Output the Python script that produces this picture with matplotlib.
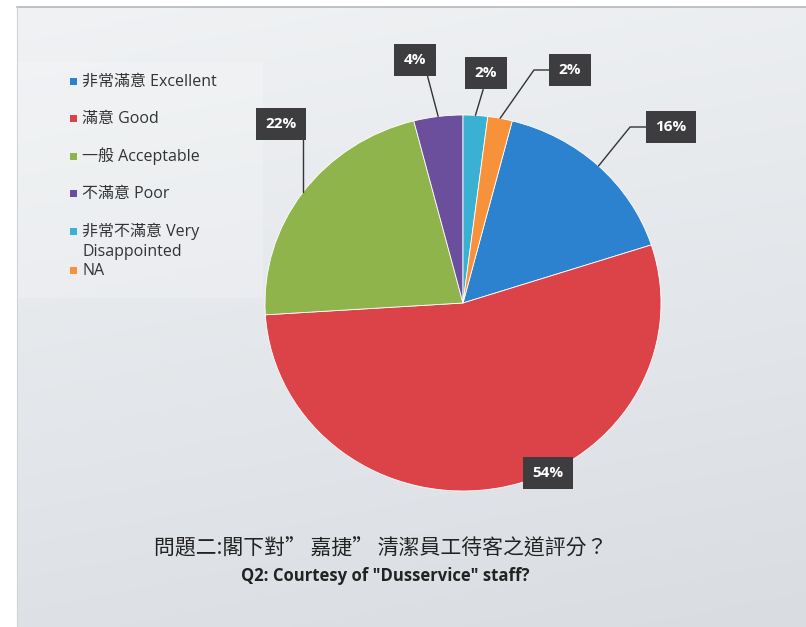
import numpy as np
import matplotlib
matplotlib.use("Agg")
import matplotlib.pyplot as plt
from matplotlib.patches import Rectangle

# Q2 survey results (percent)
labels = ["非常滿意 Excellent", "滿意 Good", "一般 Acceptable", "不滿意 Poor",
          "非常不滿意 Very\nDisappointed", "NA"]
values = [16, 54, 22, 4, 2, 2]
colors = ["#2c82cf", "#dc4349", "#8fb44b", "#6b4f9d", "#3ab0d2", "#f7923b"]

title_zh = "問題二:閣下對” 嘉捷” 清潔員工待客之道評分？"
title_en = 'Q2: Courtesy of "Dusservice" staff?'

# label box centres (pixels from top-left) and leader styles
label_pos = [(671, 127), (548, 473), (281, 124), (415, 60), (486, 73), (570, 70)]
label_conn = ["angle,angleA=0,angleB=51,rad=0", None, "angle,angleA=0,angleB=90,rad=0",
              "arc3", "arc3", "angle,angleA=0,angleB=55,rad=0"]
label_relpos = [(0, 0.5), (0.5, 0.5), (0.5, 0.5), (0.95, 0), (0.5, 0), (0, 0.5)]

# legend rows (pixels from top) and line step for wrapped labels
legend_rows = [81, 118, 156, 193, 231, 270]
legend_line = 20

W, H = 806, 627
fig = plt.figure(figsize=(W / 100, H / 100), dpi=100)
fig.patch.set_facecolor("white")

# background panel with soft gradient
bg = fig.add_axes([0, 0, 1, 1])
bg.set_xlim(0, W)
bg.set_ylim(H, 0)
bg.axis("off")
yy, xx = np.mgrid[0:1:200j, 0:1:200j]
top = np.array([240, 242, 244]) / 255
bot = np.array([217, 221, 226]) / 255
t = 0.8 * yy + 0.2 * xx
grad = top[None, None, :] * (1 - t[..., None]) + bot[None, None, :] * t[..., None]
bg.imshow(grad, extent=(17, W, H, 7), aspect="auto", zorder=0)
bg.plot([17, W], [7, 7], color="#b4b6b8", lw=1.2, zorder=1)
bg.plot([17, 17], [7, H], color="#d0d2d4", lw=0.8, zorder=1)
bg.add_patch(Rectangle((18, 62), 245, 236, fc="white", ec="none", alpha=0.18, zorder=1))

# legend, Excel style (wrapped label lines drawn one by one)
for lab, col, y in zip(labels, colors, legend_rows):
    bg.add_patch(Rectangle((70, y - 3.5), 7, 7, fc=col, ec="none", zorder=2))
    for i, line in enumerate(lab.split("\n")):
        bg.text(82, y + 5 + i * legend_line, line, ha="left", va="baseline",
                fontsize=11.5, color="#333333",
                family=["Open Sans", "Noto Sans CJK TC"], zorder=2)

# pie (slightly elliptical like the scanned original)
ax = fig.add_axes([265 / W, (H - 491) / H, 396 / W, 376 / H])
start = 90 - 360 * (values[4] + values[5]) / sum(values)
wedges, _ = ax.pie(values, colors=colors, startangle=start, counterclock=False,
                   wedgeprops=dict(edgecolor="white", linewidth=0.6))
ax.set_aspect("auto")
ax.set_xlim(-1, 1)
ax.set_ylim(-1, 1)

for w, v, pos, conn, rp in zip(wedges, values, label_pos, label_conn, label_relpos):
    mid = np.deg2rad((w.theta1 + w.theta2) / 2)
    edge = (np.cos(mid), np.sin(mid))
    xt = (pos[0] / W, 1 - pos[1] / H)
    arrow = None
    if conn is not None:
        arrow = dict(arrowstyle="-", color="#333333", lw=1.0,
                     connectionstyle=conn, relpos=rp, shrinkA=0, shrinkB=0)
    ax.annotate(f"{v}%", xy=edge, xycoords="data", xytext=xt,
                textcoords="figure fraction", ha="center", va="center",
                color="white", fontsize=11, fontweight="bold", family="Open Sans",
                bbox=dict(boxstyle="square,pad=0.62", fc="#3d3d3f", ec="none"),
                arrowprops=arrow, zorder=5)

fig.text(381 / W, 1 - 548 / H, title_zh, ha="center", va="center", fontsize=15,
         family=["Noto Sans CJK TC", "DejaVu Sans"], color="#222222")
fig.text(385 / W, 1 - 576 / H, title_en, ha="center", va="center", fontsize=12,
         fontweight="bold", family="Open Sans", color="#222222")

fig.savefig("out.png", dpi=100)
